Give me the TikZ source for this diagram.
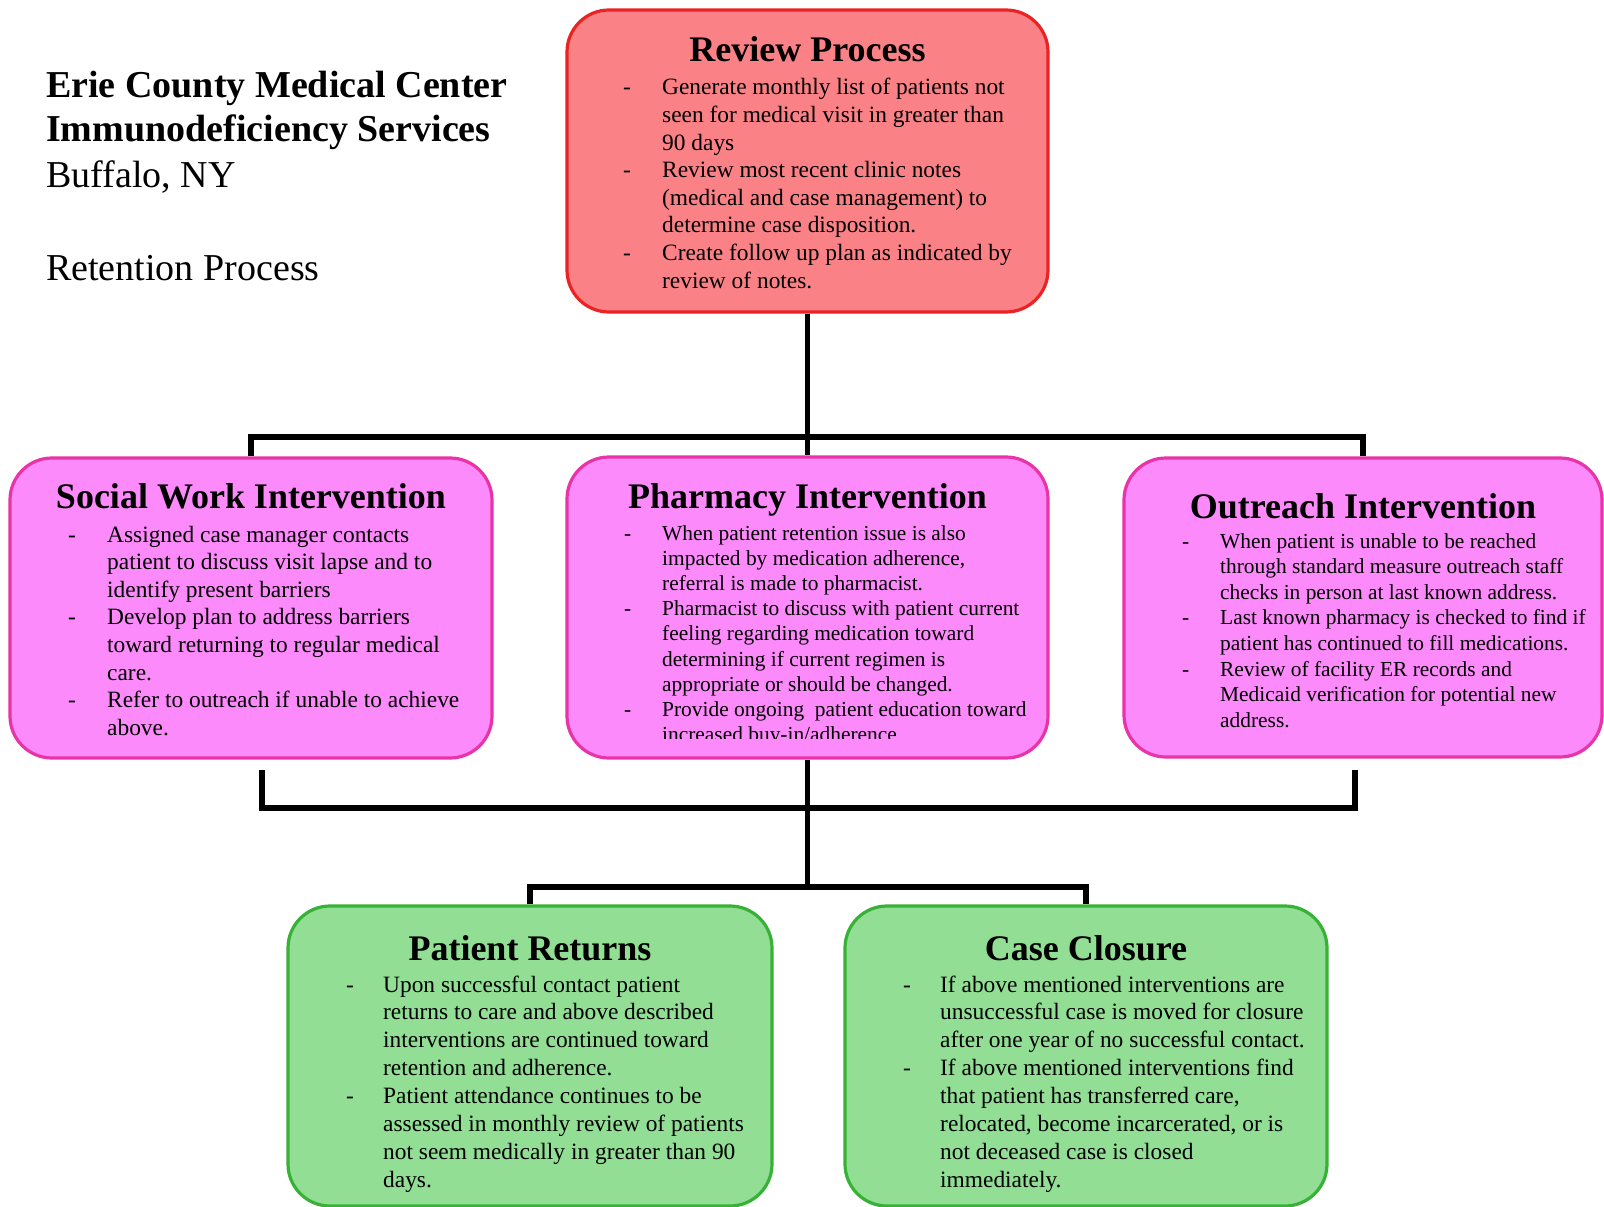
\documentclass[tikz,border=0pt]{standalone}
\usepackage{fontspec}
\setmainfont{Liberation Serif}
\usepackage{array}

\definecolor{revfill}{RGB}{250,130,135}
\definecolor{revline}{RGB}{235,35,35}
\definecolor{pinkfill}{RGB}{252,138,250}
\definecolor{pinkline}{RGB}{232,52,168}
\definecolor{greenfill}{RGB}{145,222,148}
\definecolor{greenline}{RGB}{55,178,55}

\tikzset{
  box/.style={rectangle, rounded corners=42pt, line width=3.2pt, inner sep=0pt},
  revbox/.style={box, fill=revfill, draw=revline},
  pinkbox/.style={box, fill=pinkfill, draw=pinkline},
  greenbox/.style={box, fill=greenfill, draw=greenline},
  boxtitle/.style={anchor=base, inner sep=0pt, font=\fontsize{36}{40}\selectfont\bfseries},
  bodylg/.style={anchor=base west, inner sep=0pt, font=\fontsize{23.4}{27.6}\selectfont},
  bodysm/.style={anchor=base west, inner sep=0pt, font=\fontsize{21.4}{25.2}\selectfont},
  headbold/.style={anchor=base west, inner sep=0pt, font=\fontsize{38}{42}\selectfont\bfseries},
  headreg/.style={anchor=base west, inner sep=0pt, font=\fontsize{38}{42}\selectfont},
  wire/.style={line width=5.5pt, black, line join=miter},
}

\begin{document}
\begin{tikzpicture}[x=1pt, y=-1pt]
\fill[white] (0,0) rectangle (1604,1207);
\useasboundingbox (0,0) rectangle (1604,1207);

% heading
\node[headbold] (h1) at (46,97) {Erie County Medical Center};
\node[headbold] (h2) at (46,141) {Immunodeficiency Services};
\node[headreg] (h3) at (46,187) {Buffalo, NY};
\node[headreg] (h4) at (46,280) {Retention Process};

% boxes
\node[revbox, minimum width=481pt, minimum height=302pt] (rev) at (807.5,161) {};
\node[pinkbox, minimum width=482pt, minimum height=300pt] (sw) at (251,608) {};
\node[pinkbox, minimum width=481pt, minimum height=301pt] (ph) at (807.5,607.5) {};
\node[pinkbox, minimum width=478pt, minimum height=299pt] (out) at (1363,607.5) {};
\node[greenbox, minimum width=484pt, minimum height=300pt] (pr) at (530,1056) {};
\node[greenbox, minimum width=482pt, minimum height=300pt] (cc) at (1086,1056) {};

% connectors
\coordinate (busTop) at (807.5,437);
\draw[wire] (rev.south) -- (busTop);
\draw[wire] (sw.north) |- (busTop) -| (out.north);
\draw[wire] (busTop) -- (ph.north);
\coordinate (swFoot) at (262,770);
\coordinate (outFoot) at (1355,770);
\coordinate (busMid) at (807.5,808);
\draw[wire] (swFoot) |- (busMid) -| (outFoot);
\coordinate (busLow) at (807.5,887);
\draw[wire] (ph.south) -- (busLow);
\draw[wire] (pr.north) |- (busLow) -| (cc.north);

% titles
\node[boxtitle] (revT) at (807.5,62) {Review Process};
\node[boxtitle] (swT) at (251,508) {Social Work Intervention};
\node[boxtitle] (phT) at (807.5,508) {Pharmacy Intervention};
\node[boxtitle] (outT) at (1363,518) {Outreach Intervention};
\node[boxtitle] (prT) at (530,960) {Patient Returns};
\node[boxtitle] (ccT) at (1086,960) {Case Closure};

% bodies
\node[bodylg] (revB) at (623,95) {\begin{tabular}[t]{@{}p{39pt}@{}l@{}}
- & Generate monthly list of patients not\\
  & seen for medical visit in greater than\\
  & 90 days\\
- & Review most recent clinic notes\\
  & (medical and case management) to\\
  & determine case disposition.\\
- & Create follow up plan as indicated by\\
  & review of notes.
\end{tabular}};

\node[bodylg] (swB) at (68,542) {\begin{tabular}[t]{@{}p{39pt}@{}l@{}}
- & Assigned case manager contacts\\
  & patient to discuss visit lapse and to\\
  & identify present barriers\\
- & Develop plan to address barriers\\
  & toward returning to regular medical\\
  & care.\\
- & Refer to outreach if unable to achieve\\
  & above.
\end{tabular}};

\begin{scope}
\clip (570,460) rectangle (1045,738);
\node[bodysm] (phB) at (624,540) {\begin{tabular}[t]{@{}p{38pt}@{}l@{}}
- & When patient retention issue is also\\
  & impacted by medication adherence,\\
  & referral is made to pharmacist.\\
- & Pharmacist to discuss with patient current\\
  & feeling regarding medication toward\\
  & determining if current regimen is\\
  & appropriate or should be changed.\\
- & Provide ongoing~ patient education toward\\
  & increased buy-in/adherence
\end{tabular}};
\end{scope}

\node[bodysm, font=\fontsize{21.4}{25.6}\selectfont] (outB) at (1182,548) {\begin{tabular}[t]{@{}p{38pt}@{}l@{}}
- & When patient is unable to be reached\\
  & through standard measure outreach staff\\
  & checks in person at last known address.\\
- & Last known pharmacy is checked to find if\\
  & patient has continued to fill medications.\\
- & Review of facility ER records and\\
  & Medicaid verification for potential new\\
  & address.
\end{tabular}};

\begin{scope}
\clip (290,908) rectangle (1325,1193);
\node[bodylg, font=\fontsize{23.4}{27.9}\selectfont] (prB) at (346,992) {\begin{tabular}[t]{@{}p{37pt}@{}l@{}}
- & Upon successful contact patient\\
  & returns to care and above described\\
  & interventions are continued toward\\
  & retention and adherence.\\
- & Patient attendance continues to be\\
  & assessed in monthly review of patients\\
  & not seem medically in greater than 90\\
  & days.
\end{tabular}};

\node[bodylg, font=\fontsize{23.4}{27.9}\selectfont] (ccB) at (903,992) {\begin{tabular}[t]{@{}p{37pt}@{}l@{}}
- & If above mentioned interventions are\\
  & unsuccessful case is moved for closure\\
  & after one year of no successful contact.\\
- & If above mentioned interventions find\\
  & that patient has transferred care,\\
  & relocated, become incarcerated, or is\\
  & not deceased case is closed\\
  & immediately.
\end{tabular}};
\end{scope}
\end{tikzpicture}
\end{document}
